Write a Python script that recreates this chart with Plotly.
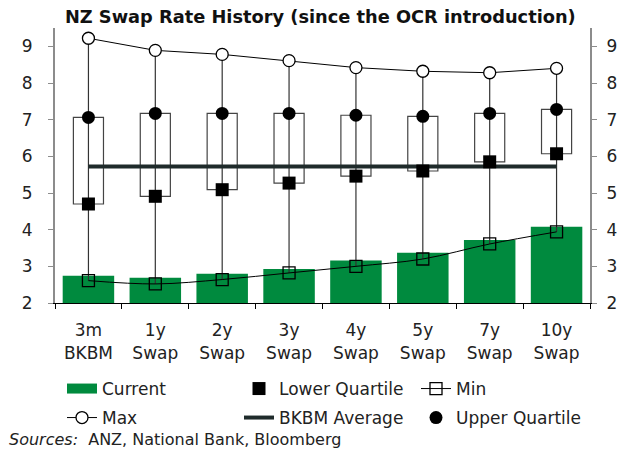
import plotly.graph_objects as go

categories = ["3m<br>BKBM", "1y<br>Swap", "2y<br>Swap", "3y<br>Swap",
              "4y<br>Swap", "5y<br>Swap", "7y<br>Swap", "10y<br>Swap"]
current = [2.74, 2.69, 2.80, 2.93, 3.16, 3.37, 3.72, 4.08]
lower_quartile = [4.70, 4.91, 5.09, 5.27, 5.46, 5.60, 5.85, 6.07]
upper_quartile = [7.06, 7.17, 7.17, 7.17, 7.12, 7.09, 7.17, 7.28]
min_vals = [2.61, 2.52, 2.64, 2.82, 3.00, 3.20, 3.61, 3.94]
max_vals = [9.22, 8.89, 8.78, 8.61, 8.42, 8.32, 8.28, 8.40]
bkbm_average = [5.72, 5.72, 5.72, 5.72, 5.72, 5.72, 5.72, 5.72]
y_ticks = [2, 3, 4, 5, 6, 7, 8, 9]

GREEN = "#008A3E"
DARK = "#1F2B2B"
FONT = "DejaVu Sans"

fig = go.Figure()

# Current bars
fig.add_trace(go.Bar(x=categories, y=current, width=0.77, marker_color=GREEN,
                     marker_line_width=0, showlegend=False, legendgroup="cur",
                     hoverinfo="skip"))
# Interquartile boxes
fig.add_trace(go.Bar(x=categories, y=[u - l for u, l in zip(upper_quartile, lower_quartile)],
                     base=lower_quartile, width=0.45,
                     marker=dict(color="white", line=dict(color="#444444", width=1.2)),
                     showlegend=False, hoverinfo="skip"))

# Whiskers
wx, wy = [], []
for c, lo, hi in zip(categories, min_vals, max_vals):
    wx += [c, c, None]
    wy += [lo, hi, None]
fig.add_trace(go.Scatter(x=wx, y=wy, mode="lines", line=dict(color="#333333", width=1.2),
                         showlegend=False, hoverinfo="skip"))

# Legend entry for Current (wide swatch)
fig.add_trace(go.Scatter(x=[None], y=[None], mode="lines", name="Current",
                         line=dict(color=GREEN, width=10), legend="legend",
                         legendgroup="cur", legendrank=1))

fig.add_trace(go.Scatter(x=categories, y=min_vals, mode="lines+markers", name="Min",
                         line=dict(color="black", width=1, shape="spline"),
                         marker=dict(symbol="square-open", size=12, color="black",
                                     line=dict(width=1.3)),
                         legend="legend", legendrank=3))
fig.add_trace(go.Scatter(x=categories, y=max_vals, mode="lines+markers", name="Max",
                         line=dict(color="black", width=1),
                         marker=dict(symbol="circle", size=12, color="white",
                                     line=dict(color="black", width=1.3)),
                         legend="legend2", legendrank=1))
fig.add_trace(go.Scatter(x=categories, y=bkbm_average, mode="lines", name="BKBM Average",
                         line=dict(color=DARK, width=4),
                         legend="legend2", legendrank=2))
fig.add_trace(go.Scatter(x=categories, y=lower_quartile, mode="markers", name="Lower Quartile",
                         marker=dict(symbol="square", size=13, color="black"),
                         legend="legend", legendrank=2))
fig.add_trace(go.Scatter(x=categories, y=upper_quartile, mode="markers", name="Upper Quartile",
                         marker=dict(symbol="circle", size=13, color="black"),
                         legend="legend2", legendrank=3))

# dummy trace on right axis
fig.add_trace(go.Scatter(x=categories, y=current, yaxis="y2", mode="markers",
                         marker=dict(opacity=0), showlegend=False, hoverinfo="skip"))

legend_common = dict(orientation="h", xanchor="left", yanchor="middle",
                     xref="container", yref="container",
                     font=dict(family=FONT, size=17, color="#222222"),
                     bgcolor="rgba(0,0,0,0)", entrywidthmode="pixels", entrywidth=132,
                     traceorder="normal", itemwidth=30)

tick_font = dict(family=FONT, size=17, color="#222222")

fig.update_layout(
    width=622, height=450,
    margin=dict(l=55, r=32, t=28, b=147, autoexpand=False),
    paper_bgcolor="white", plot_bgcolor="white",
    barmode="overlay",
    font=dict(family=FONT, size=16, color="#222222"),
    title=dict(text="<b>NZ Swap Rate History (since the OCR introduction)</b>",
               x=0.515, xref="container", xanchor="center",
               y=1 - 17 / 450, yref="container", yanchor="middle",
               font=dict(family=FONT, size=17.8, color="#111111")),
    xaxis=dict(showline=True, linecolor="black", linewidth=1, ticks="outside",
               tickson="boundaries", ticklen=5, tickcolor="black", showgrid=False,
               ticklabelstandoff=12, range=[-0.5, 7.5], automargin=False,
               tickfont=tick_font),
    yaxis=dict(range=[2, 9.5], tickvals=y_ticks, showline=True, linecolor="#8C8C8C",
               linewidth=2, ticks="outside", ticklen=5, tickcolor="#8C8C8C",
               showgrid=False, zeroline=False, ticklabelstandoff=12, automargin=False,
               tickfont=tick_font),
    yaxis2=dict(range=[2, 9.5], tickvals=y_ticks, overlaying="y", side="right",
                showline=True, linecolor="#8C8C8C", linewidth=2, ticks="outside",
                ticklen=5, tickcolor="#8C8C8C", showgrid=False, zeroline=False,
                ticklabelstandoff=6, automargin=False, tickfont=tick_font),
    legend=dict(x=62 / 622, y=1 - 389 / 450, **legend_common),
    legend2=dict(x=62 / 622, y=1 - 418 / 450, **legend_common),
    annotations=[dict(text="<i>Sources:</i>  ANZ, National Bank, Bloomberg",
                      xref="paper", yref="paper", x=(7 - 55) / 535, y=(303 - 440) / 275,
                      xanchor="left", yanchor="middle", showarrow=False,
                      font=dict(family=FONT, size=16, color="#222222"))],
    showlegend=True,
)

fig.write_html("out.html", config={"displayModeBar": False},
               post_script="document.body.style.margin='0';document.body.style.padding='0';")
